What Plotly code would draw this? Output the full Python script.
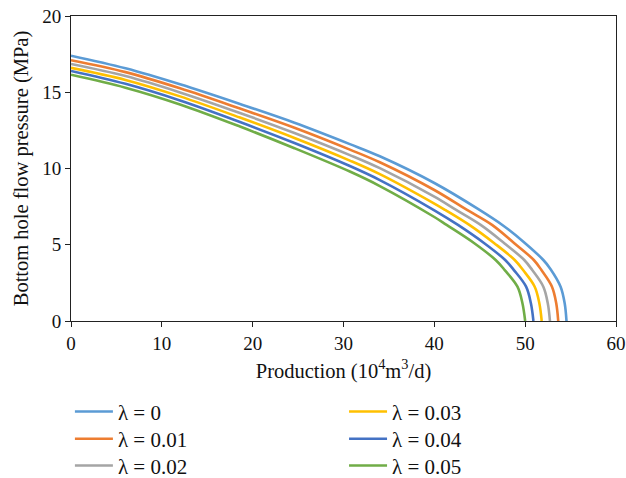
import plotly.graph_objects as go

# Bottom hole flow pressure vs production for several lambda values
labels = ["λ = 0", "λ = 0.01", "λ = 0.02", "λ = 0.03", "λ = 0.04", "λ = 0.05"]
colors = ["#5B9BD5", "#ED7D31", "#A5A5A5", "#FFC000", "#4472C4", "#70AD47"]

q_l0 = [0, 6, 12, 18.6, 24.6, 30.7, 34, 40, 44.8, 47.6, 49.9, 52.0, 52.8, 53.9, 54.35, 54.55]
p_l0 = [17.4, 16.57, 15.52, 14.23, 13.0, 11.6, 10.8, 9.05, 7.35, 6.25, 5.15, 4.0, 3.4, 2.25, 1.16, 0]

q_l1 = [0, 6, 12, 18.6, 24.6, 30.7, 34, 40, 43.6, 46.35, 48.8, 50.95, 51.79, 52.95, 53.42, 53.64]
p_l1 = [17.1, 16.32, 15.26, 13.93, 12.67, 11.24, 10.41, 8.59, 7.28, 6.3, 5.1, 4.0, 3.34, 2.25, 1.16, 0]

q_l2 = [0, 6, 12, 18.6, 24.6, 30.7, 34, 40, 42.4, 45.1, 47.7, 49.9, 50.78, 52.0, 52.49, 52.73]
p_l2 = [16.85, 16.06, 14.99, 13.64, 12.33, 10.88, 10.02, 8.15, 7.28, 6.3, 5.1, 4.0, 3.34, 2.25, 1.16, 0]

q_l3 = [0, 6, 12, 18.6, 24.6, 30.7, 34, 40, 41.2, 43.85, 46.6, 48.85, 49.77, 51.05, 51.56, 51.82]
p_l3 = [16.6, 15.81, 14.73, 13.34, 12.0, 10.52, 9.63, 7.70, 7.28, 6.3, 5.1, 4.0, 3.34, 2.25, 1.16, 0]

q_l4 = [0, 6, 12, 18.6, 24.6, 30.7, 34, 40, 42.6, 45.5, 47.8, 48.76, 50.1, 50.63, 50.91]
p_l4 = [16.4, 15.55, 14.46, 13.05, 11.67, 10.16, 9.24, 7.26, 6.3, 5.1, 4.0, 3.34, 2.25, 1.16, 0]

q_l5 = [0, 6, 12, 18.6, 24.6, 30.7, 34, 40, 41.35, 44.4, 46.75, 47.75, 49.15, 49.7, 50.0]
p_l5 = [16.15, 15.3, 14.2, 12.75, 11.33, 9.8, 8.85, 6.82, 6.3, 5.1, 4.0, 3.34, 2.25, 1.16, 0]

x_ticks = [0, 10, 20, 30, 40, 50, 60]
y_ticks = [0, 5, 10, 15, 20]

series = [(q_l0, p_l0), (q_l1, p_l1), (q_l2, p_l2), (q_l3, p_l3), (q_l4, p_l4), (q_l5, p_l5)]

FONT = "Liberation Serif"

# one legend box per entry: two columns of three rows under the plot
legend_ids = ["legend", "legend2", "legend3", "legend4", "legend5", "legend6"]
legend_x = [-0.002, -0.002, -0.002, 0.501, 0.501, 0.501]
legend_y = [-0.298, -0.387, -0.475, -0.298, -0.387, -0.475]

fig = go.Figure()
for (q, p), name, c, lid in zip(series, labels, colors, legend_ids):
    fig.add_trace(go.Scatter(
        x=q, y=p, name=name, mode="lines",
        line=dict(color=c, width=2.6, shape="spline", smoothing=1.0),
        legend=lid,
    ))

axis_common = dict(
    showline=True, linecolor="#222222", linewidth=1, mirror=True,
    ticks="outside", ticklen=5, tickcolor="#222222",
    showgrid=False, zeroline=False, automargin=False,
    tickfont=dict(family=FONT, size=19, color="#111111"),
)

legend_layout = {}
for lid, lx, ly in zip(legend_ids, legend_x, legend_y):
    legend_layout[lid] = dict(
        x=lx, y=ly, xanchor="left", yanchor="middle", orientation="v",
        itemwidth=38, font=dict(family=FONT, size=21, color="#111111"),
        bgcolor="rgba(0,0,0,0)",
    )

fig.update_layout(
    width=626, height=478,
    margin=dict(l=71, r=10, t=16, b=157, autoexpand=False),
    paper_bgcolor="white", plot_bgcolor="white",
    font=dict(family=FONT, size=19, color="#111111"),
    xaxis=dict(range=[0, 60], tickvals=x_ticks,
               title=dict(text="Production (10<sup>4</sup>m<sup>3</sup>/d)",
                          font=dict(family=FONT, size=20.5), standoff=10),
               **axis_common),
    yaxis=dict(range=[0, 20], tickvals=y_ticks,
               title=dict(text="Bottom hole flow pressure (MPa)",
                          font=dict(family=FONT, size=20.5), standoff=8),
               **axis_common),
    showlegend=True,
    **legend_layout,
)

fig.write_html("out.html")
